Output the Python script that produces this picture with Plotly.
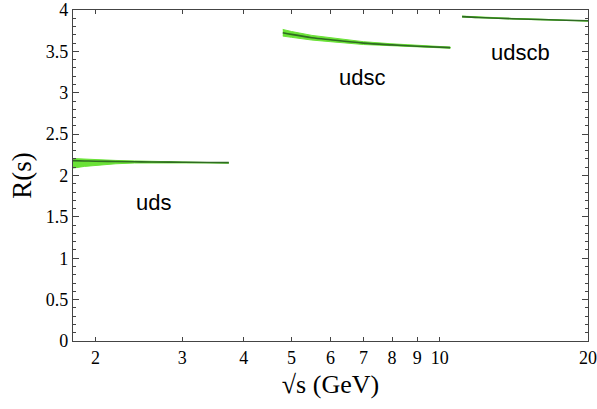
import plotly.graph_objects as go
import numpy as np

# uds region
uds_x = [1.8, 1.9, 2.0, 2.2, 2.4, 2.6, 3.0, 3.4, 3.73]
uds_c = [2.180, 2.176, 2.173, 2.169, 2.166, 2.164, 2.160, 2.157, 2.155]
uds_hi = [2.205, 2.197, 2.190, 2.182, 2.176, 2.172, 2.166, 2.162, 2.159]
uds_lo = [2.090, 2.110, 2.125, 2.142, 2.151, 2.156, 2.154, 2.152, 2.151]

# udsc region
udsc_x = [4.8, 5.0, 5.5, 6.0, 7.0, 8.0, 9.0, 10.5]
udsc_c = [3.725, 3.705, 3.665, 3.640, 3.600, 3.578, 3.562, 3.545]
udsc_hi = [3.765, 3.740, 3.693, 3.663, 3.617, 3.591, 3.572, 3.552]
udsc_lo = [3.685, 3.670, 3.637, 3.617, 3.583, 3.565, 3.552, 3.538]

# udscb region
udscb_x = [11.1, 12.0, 14.0, 16.0, 18.0, 20.0]
udscb_c = [3.920, 3.910, 3.895, 3.885, 3.877, 3.870]
udscb_hi = [3.926, 3.915, 3.899, 3.889, 3.880, 3.873]
udscb_lo = [3.914, 3.905, 3.891, 3.881, 3.874, 3.867]

labels = ["uds", "udsc", "udscb"]
label_x = [2.62, 6.95, 14.6]
label_y = [1.67, 3.18, 3.49]

x_ticks = [2, 3, 4, 5, 6, 7, 8, 9, 10, 20]
y_ticks = [0, 0.5, 1, 1.5, 2, 2.5, 3, 3.5, 4]
y_tick_text = ["0", "0.5", "1", "1.5", "2", "2.5", "3", "3.5", "4"]

BAND = "#6ae236"
LINE = "#2f6b22"

fig = go.Figure()
for xs, c, hi, lo in [(uds_x, uds_c, uds_hi, uds_lo),
                      (udsc_x, udsc_c, udsc_hi, udsc_lo),
                      (udscb_x, udscb_c, udscb_hi, udscb_lo)]:
    fig.add_trace(go.Scatter(x=xs + xs[::-1], y=hi + lo[::-1], fill="toself",
                             fillcolor=BAND, line=dict(color=BAND, width=1),
                             mode="lines", hoverinfo="skip", showlegend=False))
    fig.add_trace(go.Scatter(x=xs, y=c, mode="lines",
                             line=dict(color=LINE, width=1.6, shape="spline"),
                             showlegend=False))

for t, lx, ly in zip(labels, label_x, label_y):
    fig.add_annotation(x=np.log10(lx), y=ly, text=t, showarrow=False,
                       font=dict(family="Liberation Sans, Arial", size=22, color="black"))

axis_common = dict(showgrid=False, zeroline=False, showline=True, linecolor="#444",
                   linewidth=1.2, mirror="allticks", ticks="inside", tickcolor="#444",
                   automargin=False,
                   tickfont=dict(family="Liberation Serif, Times New Roman", size=18, color="black"))

fig.update_xaxes(type="log", range=[np.log10(1.8), np.log10(20)], tickvals=x_ticks,
                 ticktext=[str(v) for v in x_ticks], ticklen=4,
                 title=dict(text="√s (GeV)", standoff=8,
                            font=dict(family="Liberation Serif, Times New Roman", size=26, color="black")),
                 **axis_common)
fig.update_yaxes(range=[0, 4], tickvals=y_ticks, ticktext=y_tick_text, ticklen=6,
                 minor=dict(dtick=0.1, ticks="inside", ticklen=3, tickcolor="#444"),
                 title=dict(text="R(s)", standoff=6,
                            font=dict(family="Liberation Serif, Times New Roman", size=27, color="black")),
                 **axis_common)

fig.update_layout(width=597, height=409, margin=dict(l=73, r=9, t=10, b=68),
                  plot_bgcolor="white", paper_bgcolor="white")
fig.write_html("out.html", config={"displayModeBar": False},
               post_script="document.body.style.margin='0';document.body.style.overflow='hidden';")
